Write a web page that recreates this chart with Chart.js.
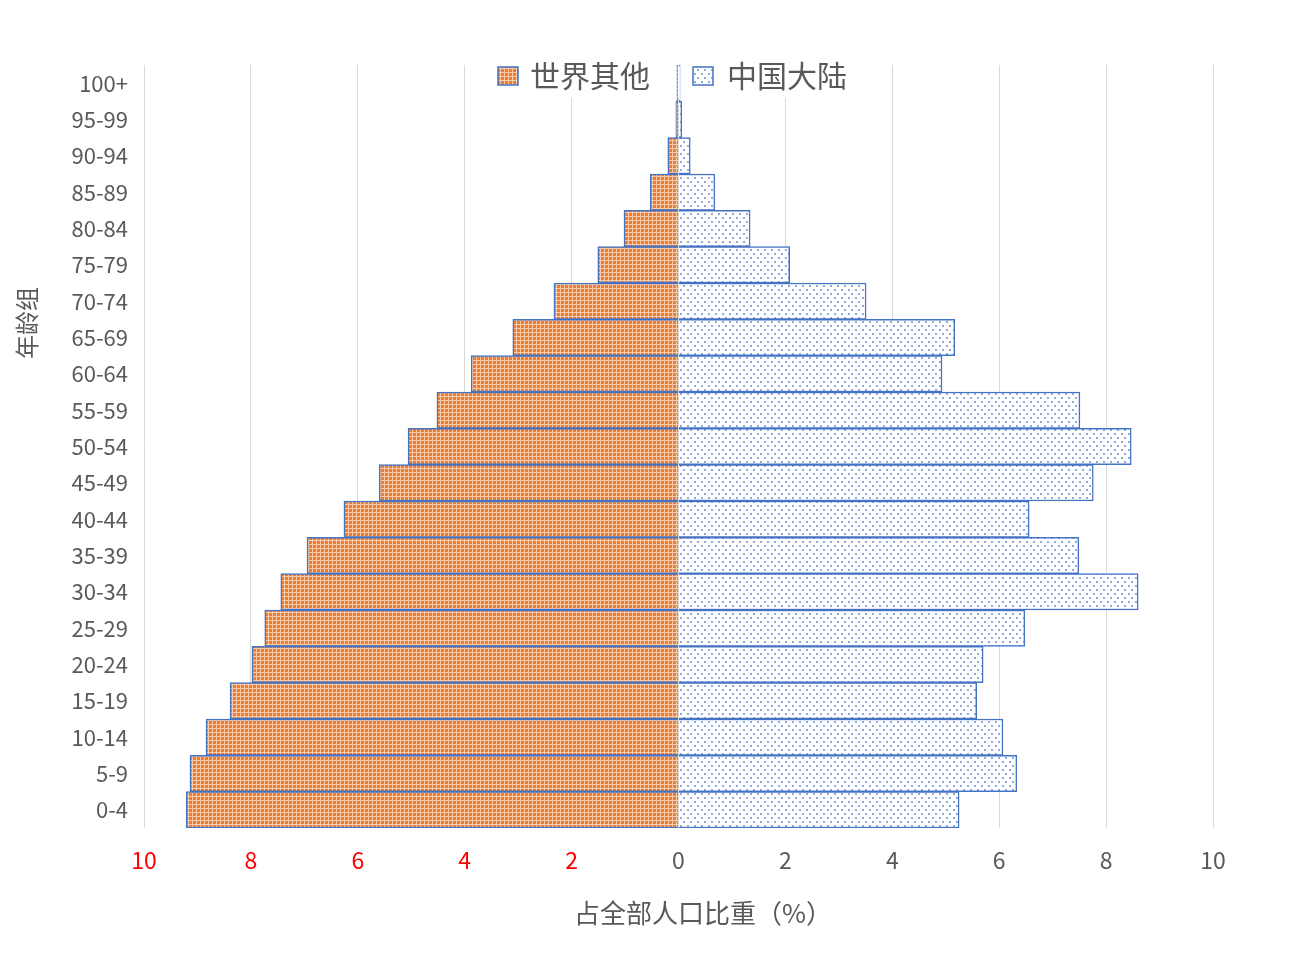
<!DOCTYPE html>
<html>
<head>
<meta charset="utf-8">
<script src="https://cdn.jsdelivr.net/npm/chart.js@4.4.1/dist/chart.umd.min.js"></script>
<style>
    html, body { margin: 0; padding: 0; background: #fff; }
    #wrap { width: 1307px; height: 954px; }
</style>
</head>
<body>
<div id="wrap"><canvas id="pyramidChart" width="1307" height="954"></canvas></div>
<script>
// age groups, bottom to top
const ageGroups = ['0-4', '5-9', '10-14', '15-19', '20-24', '25-29', '30-34', '35-39', '40-44', '45-49',
    '50-54', '55-59', '60-64', '65-69', '70-74', '75-79', '80-84', '85-89', '90-94', '95-99', '100+'];

// share of total population (%)
const restOfWorld = [9.21, 9.14, 8.84, 8.39, 7.98, 7.74, 7.44, 6.95, 6.26, 5.60,
    5.06, 4.52, 3.88, 3.10, 2.33, 1.51, 1.02, 0.53, 0.20, 0.05, 0.03];
const mainlandChina = [5.25, 6.33, 6.07, 5.58, 5.70, 6.48, 8.60, 7.49, 6.56, 7.76,
    8.47, 7.51, 4.93, 5.17, 3.51, 2.08, 1.34, 0.68, 0.22, 0.06, 0.03];

const xTicks = [-10, -8, -6, -4, -2, 0, 2, 4, 6, 8, 10];
const seriesNames = ['世界其他', '中国大陆'];
const xTitle = '占全部人口比重（%）';
const yTitle = '年龄组';

const FONT = '"Noto Sans CJK SC", "Noto Sans", sans-serif';
const GREY = '#595959';
const BLUE = '#4472C4';

function orangePattern() {
    const c = document.createElement('canvas');
    c.width = 4; c.height = 4;
    const g = c.getContext('2d');
    g.fillStyle = '#ED7D31';
    g.fillRect(0, 0, 4, 4);
    g.fillStyle = 'rgba(255,255,255,0.6)';
    g.fillRect(0, 0, 4, 1);
    g.fillRect(0, 1, 1, 3);
    return g.createPattern(c, 'repeat');
}

function dotPattern() {
    const c = document.createElement('canvas');
    c.width = 7; c.height = 8;
    const g = c.getContext('2d');
    g.fillStyle = '#ffffff';
    g.fillRect(0, 0, 7, 8);
    g.fillStyle = 'rgba(68,114,196,0.6)';
    g.fillRect(1, 1, 2, 2);
    g.fillRect(4, 5, 2, 2);
    return g.createPattern(c, 'repeat');
}

const fillLeft = orangePattern();
const fillRight = dotPattern();

// legend and axis titles, placed like the original
const extras = {
    id: 'extras',
    beforeDatasetsDraw(chart) {
        const ctx = chart.ctx;
        ctx.save();
        ctx.fillStyle = '#fff';
        ctx.fillRect(490, 58, 370, 40);
        ctx.font = '30px ' + FONT;
        ctx.textBaseline = 'middle';
        const items = [[498, 530, fillLeft], [693, 727, fillRight]];
        items.forEach((it, i) => {
            ctx.fillStyle = it[2];
            ctx.fillRect(it[0], 67, 20, 18);
            ctx.strokeStyle = BLUE;
            ctx.lineWidth = 1.5;
            ctx.strokeRect(it[0], 67, 20, 18);
            ctx.fillStyle = GREY;
            ctx.fillText(seriesNames[i], it[1], 76);
        });
        ctx.restore();
    },
    afterDraw(chart) {
        const ctx = chart.ctx;
        ctx.save();
        ctx.fillStyle = GREY;
        ctx.textAlign = 'center';
        ctx.textBaseline = 'middle';
        ctx.font = '26px ' + FONT;
        ctx.fillText(xTitle, 703, 913);
        ctx.translate(27, 323);
        ctx.rotate(-Math.PI / 2);
        ctx.font = '24px ' + FONT;
        ctx.fillText(yTitle, 0, 0);
        ctx.restore();
    }
};

new Chart(document.getElementById('pyramidChart').getContext('2d'), {
    type: 'bar',
    data: {
        labels: ageGroups,
        datasets: [{
            label: seriesNames[0],
            data: restOfWorld.map(v => -v),
            backgroundColor: fillLeft,
            borderColor: BLUE,
            borderWidth: 1.5,
            barPercentage: 1,
            categoryPercentage: 1
        }, {
            label: seriesNames[1],
            data: mainlandChina,
            backgroundColor: fillRight,
            borderColor: BLUE,
            borderWidth: 1.5,
            barPercentage: 1,
            categoryPercentage: 1
        }]
    },
    options: {
        indexAxis: 'y',
        responsive: false,
        animation: false,
        layout: { padding: { left: 0, right: 94, top: 65, bottom: 0 } },
        scales: {
            x: {
                stacked: true,
                min: -10,
                max: 10,
                afterBuildTicks: scale => { scale.ticks = xTicks.map(v => ({ value: v })); },
                afterFit: scale => { scale.height = 126; },
                grid: { color: '#d9d9d9', lineWidth: 1, drawTicks: false },
                border: { display: false },
                ticks: {
                    padding: 18,
                    font: { family: FONT, size: 23 },
                    color: ctx => (ctx.tick && ctx.tick.value < 0 ? '#FF0000' : GREY),
                    callback: v => Math.abs(v)
                }
            },
            y: {
                stacked: true,
                reverse: true,
                afterFit: scale => { scale.width = 144; },
                grid: { display: false, drawTicks: false },
                border: { display: false },
                ticks: {
                    padding: 16,
                    color: GREY,
                    font: { family: FONT, size: 22 }
                }
            }
        },
        plugins: {
            legend: { display: false },
            tooltip: { enabled: false }
        }
    },
    plugins: [extras]
});
</script>
</body>
</html>
